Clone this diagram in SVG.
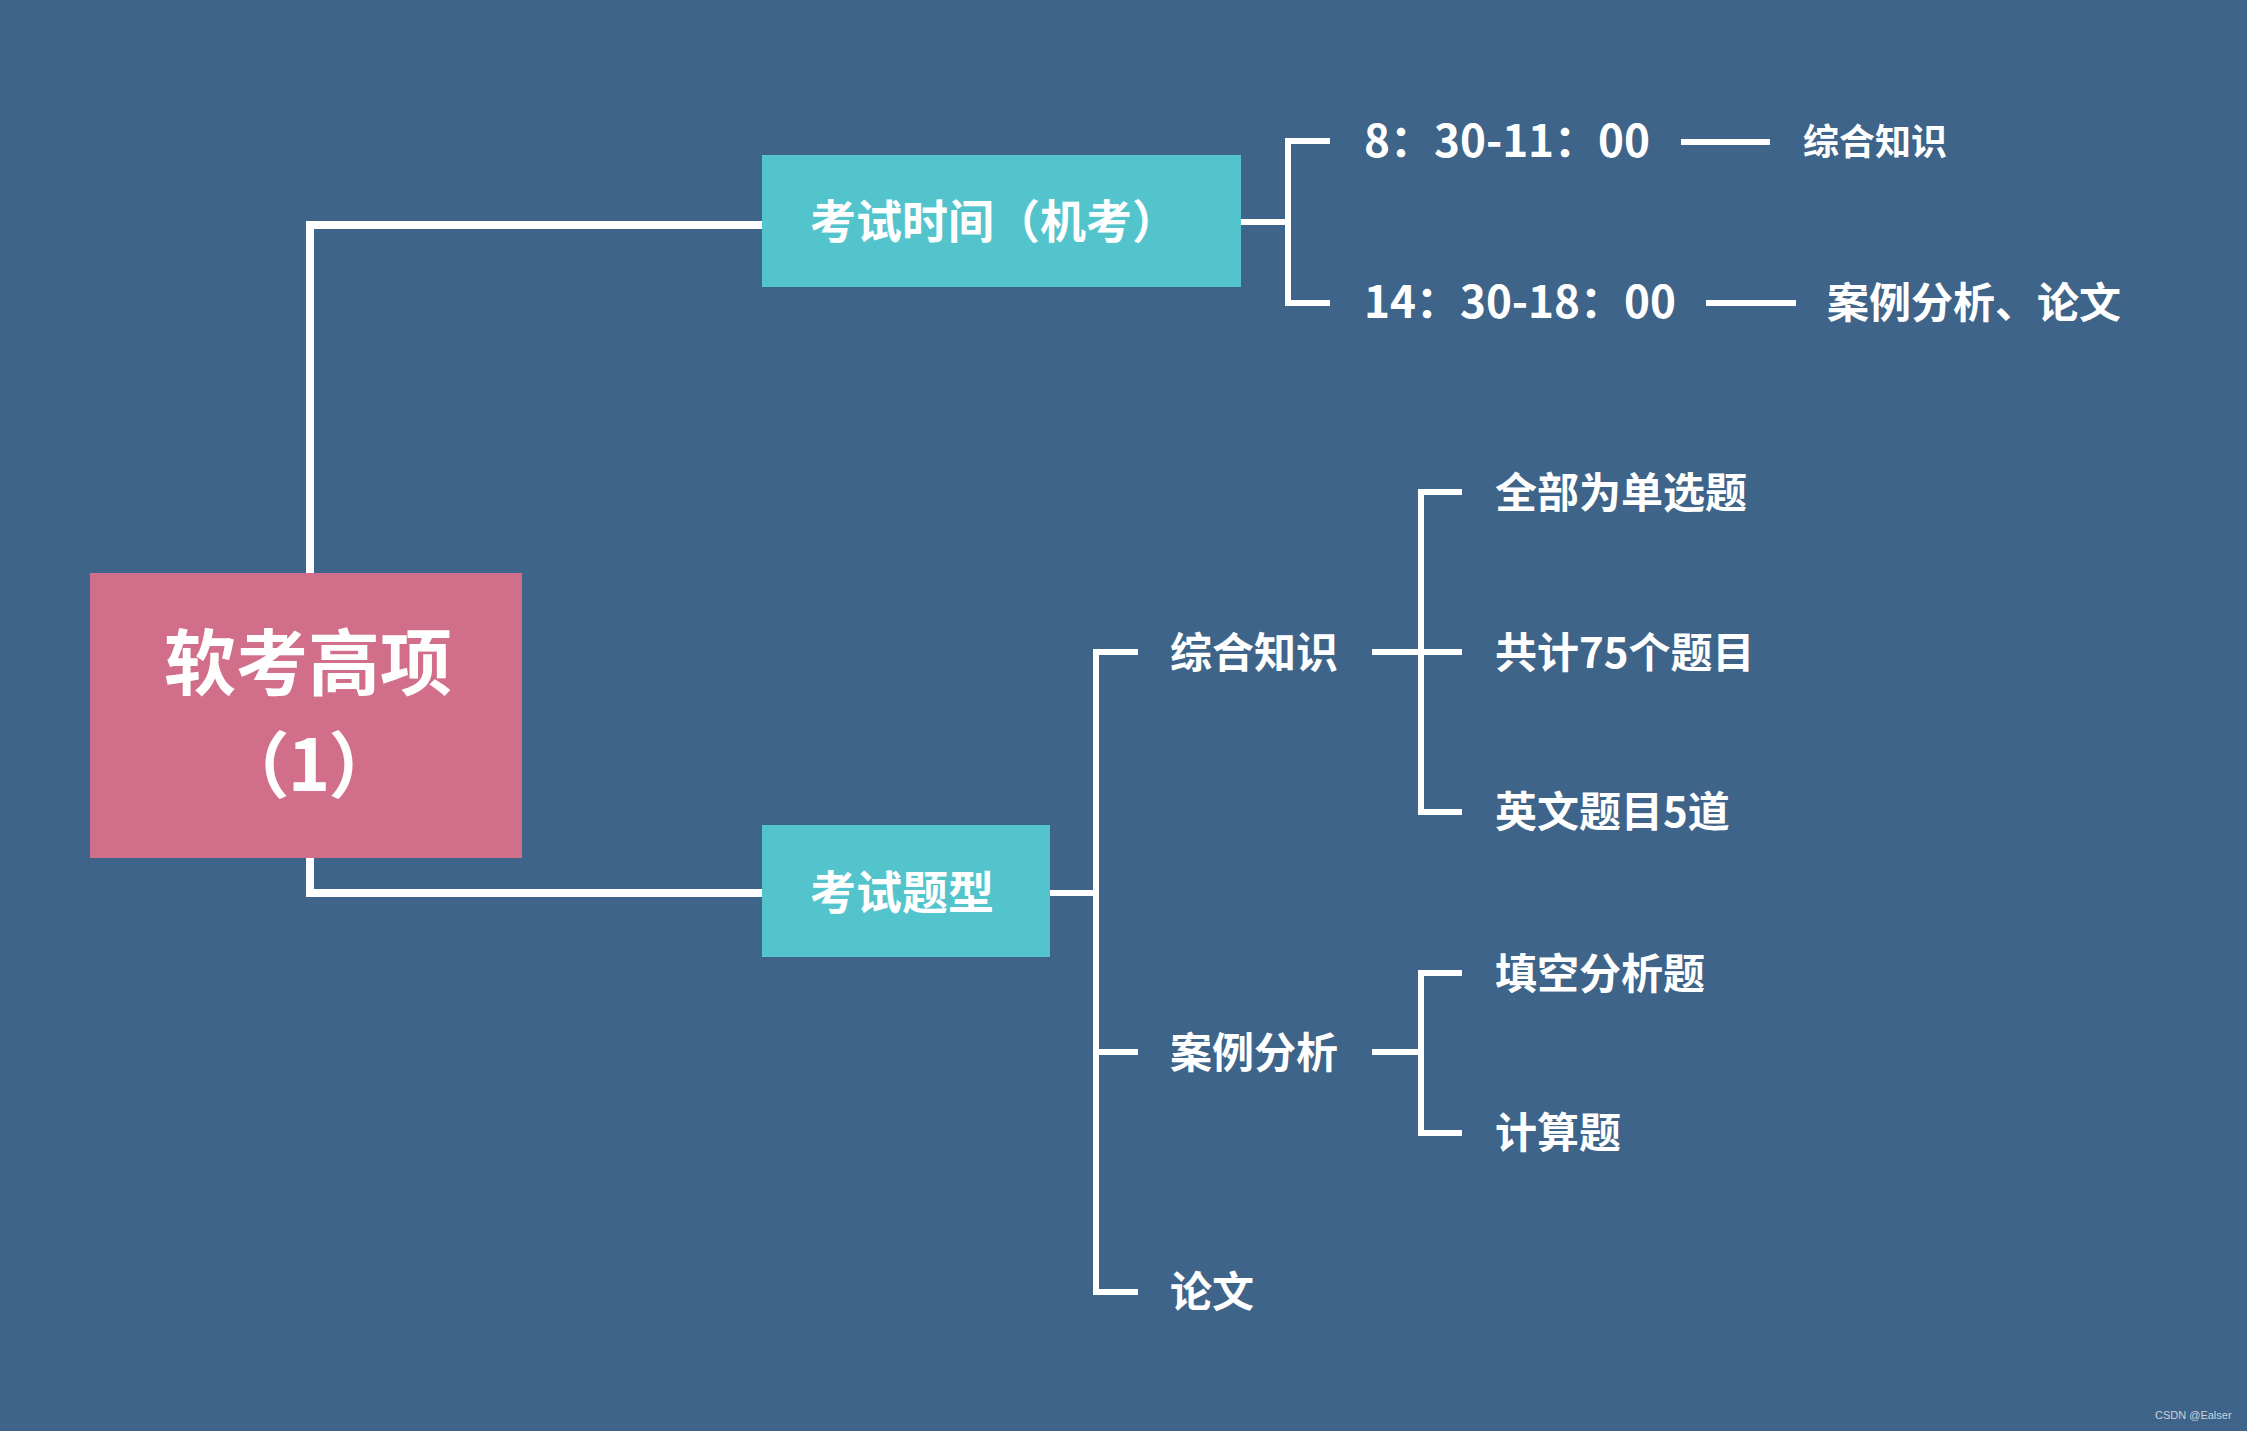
<svg xmlns="http://www.w3.org/2000/svg" width="2247" height="1431" viewBox="0 0 2247 1431">
<style>
.t{font-family:"Noto Sans CJK SC","Microsoft YaHei","Noto Sans",sans-serif;font-weight:bold;fill:#ffffff;dominant-baseline:central}
.ln{stroke:#ffffff;fill:none;stroke-linecap:butt;stroke-linejoin:miter}
.teal{fill:#54C4CC}
</style>
<rect x="0" y="0" width="2247" height="1431" fill="#3F6489"/>
<g id="connectors">
<path class="ln" stroke-width="8" d="M762 225 H310 V573"/>
<path class="ln" stroke-width="8" d="M310 858 V893 H762"/>
<path class="ln" stroke-width="6" d="M1241 222 H1288"/>
<path class="ln" stroke-width="6" d="M1330 141 H1288 V303 H1330"/>
<path class="ln" stroke-width="6" d="M1681 142 H1770"/>
<path class="ln" stroke-width="6" d="M1706 303 H1796"/>
<path class="ln" stroke-width="6" d="M1050 893 H1096"/>
<path class="ln" stroke-width="6" d="M1138 652 H1096 V1292 H1138"/>
<path class="ln" stroke-width="6" d="M1096 1052 H1138"/>
<path class="ln" stroke-width="6" d="M1372 652 H1462"/>
<path class="ln" stroke-width="6" d="M1462 492 H1421 V812 H1462"/>
<path class="ln" stroke-width="6" d="M1372 1052 H1421"/>
<path class="ln" stroke-width="6" d="M1462 973 H1421 V1133 H1462"/>
</g>
<g id="root">
<rect x="90" y="573" width="432" height="285" fill="#D16E8A"/>
<text class="t" x="308" y="657" font-size="72" text-anchor="middle">软考高项</text>
<text class="t" x="308" y="759" font-size="72" text-anchor="middle" letter-spacing="-2">（1）</text>
</g>
<g id="exam-time">
<rect class="teal" x="762" y="155" width="479" height="132"/>
<text class="t" x="810" y="218" font-size="46">考试时间（机考）</text>
</g>
<g id="time-am"><text class="t" x="1364" y="138" font-size="44">8：30-11：00</text></g>
<g id="time-am-subject"><text class="t" x="1803" y="139" font-size="36">综合知识</text></g>
<g id="time-pm"><text class="t" x="1364" y="299" font-size="44">14：30-18：00</text></g>
<g id="time-pm-subject"><text class="t" x="1827" y="299" font-size="42">案例分析、论文</text></g>
<g id="exam-type">
<rect class="teal" x="762" y="825" width="288" height="132"/>
<text class="t" x="810" y="889" font-size="46">考试题型</text>
</g>
<g id="general"><text class="t" x="1170" y="649" font-size="42">综合知识</text></g>
<g id="case"><text class="t" x="1170" y="1049" font-size="42">案例分析</text></g>
<g id="essay"><text class="t" x="1170" y="1288" font-size="42">论文</text></g>
<g id="g1"><text class="t" x="1495" y="489" font-size="42">全部为单选题</text></g>
<g id="g2"><text class="t" x="1495" y="649" font-size="42">共计75个题目</text></g>
<g id="g3"><text class="t" x="1495" y="808" font-size="42">英文题目5道</text></g>
<g id="c1"><text class="t" x="1495" y="970" font-size="42">填空分析题</text></g>
<g id="c2"><text class="t" x="1495" y="1129" font-size="42">计算题</text></g>
<text x="2155" y="1419" font-family="Liberation Sans, sans-serif" font-size="11" fill="#C9D2DC">CSDN @Ealser</text>
</svg>
